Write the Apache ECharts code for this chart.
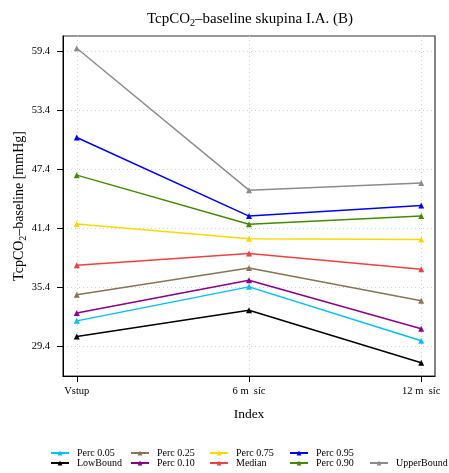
<!DOCTYPE html>
<html><head><meta charset="utf-8">
<script src="https://cdn.jsdelivr.net/npm/echarts@6/dist/echarts.min.js"></script>
<style>html,body{margin:0;padding:0;background:#fff}#c{width:449px;height:473px}</style>
</head><body><div id="c"></div>
<script>
const categories = ['Vstup', '6 m  síc', '12 m  síc'];
const yTicks = [29.4, 35.4, 41.4, 47.4, 53.4, 59.4];
const perc05 = [32.01, 35.47, 29.98];
const lowBound = [30.42, 33.10, 27.74];
const perc25 = [34.66, 37.38, 34.05];
const perc10 = [32.80, 36.15, 31.20];
const perc75 = [41.87, 40.36, 40.30];
const median = [37.67, 38.87, 37.27];
const perc95 = [50.67, 42.67, 43.75];
const perc90 = [46.84, 41.85, 42.67];
const upperBound = [59.75, 45.31, 46.05];

const seriesDefs = [
  ['Perc 0.05', perc05, '#00BFFF'],
  ['LowBound', lowBound, '#000000'],
  ['Perc 0.25', perc25, '#8B7355'],
  ['Perc 0.10', perc10, '#8B008B'],
  ['Perc 0.75', perc75, '#FFD700'],
  ['Median', median, '#F04040'],
  ['Perc 0.95', perc95, '#0000FF'],
  ['Perc 0.90', perc90, '#458B00'],
  ['UpperBound', upperBound, '#8C8C8C']
];
const FONT = 'Liberation Serif';
const chart = echarts.init(document.getElementById('c'));
const legendCols = [[0,1],[2,3],[4,5],[6,7],[8]];
const legendLeft = [50, 130, 209, 289, 369];
const legends = legendCols.map((col, i) => ({
  orient: 'vertical', left: legendLeft[i], top: i === 4 ? 458 : 448,
  itemWidth: 18, itemHeight: 6, itemGap: 0, padding: 0,
  data: col.map(k => seriesDefs[k][0]),
  textStyle: {fontFamily: FONT, fontSize: 10, color: '#000', lineHeight: 10, padding: [0,0,0,3]}
}));
chart.setOption({
  animation: false,
  title: {
    text: 'TcpCO{s|2}–baseline skupina I.A. (B)', left: 245, textAlign: 'center', top: 6,
    textStyle: {fontFamily: FONT, fontSize: 15, fontWeight: 'normal', color: '#000',
      rich: {s: {fontFamily: FONT, fontSize: 10, verticalAlign: 'bottom', padding: [7,0,0,0]}}}
  },
  legend: legends,
  grid: {left: 63, right: 14, top: 36, bottom: 97, show: true, borderColor: '#333', borderWidth: 1.2},
  xAxis: {
    type: 'value', min: -0.08, max: 2.08,
    name: 'Index', nameLocation: 'middle', nameGap: 31,
    nameTextStyle: {fontFamily: FONT, fontSize: 13.5, color: '#000'},
    axisLine: {show: true, onZero: false, lineStyle: {color: '#000', width: 1}},
    axisTick: {show: true, length: 6, customValues: [0,1,2], lineStyle: {color: '#000'}},
    axisLabel: {customValues: [0,1,2], formatter: v => categories[Math.round(v)], fontFamily: FONT, fontSize: 10.5, color: '#000', margin: 10},
    splitLine: {show: true, lineStyle: {type: [1, 3], color: '#d0d0d0'}}
  },
  yAxis: {
    type: 'value', min: 26.4, max: 61.0,
    name: 'TcpCO{s|2}–baseline [mmHg]', nameLocation: 'middle', nameGap: 35, nameMoveOverlap: false,
    nameTextStyle: {fontFamily: FONT, fontSize: 14, color: '#000',
      rich: {s: {fontFamily: FONT, fontSize: 10, padding: [7,0,0,0]}}},
    axisLine: {show: true, onZero: false, lineStyle: {color: '#000', width: 1}},
    axisTick: {show: true, length: 6, customValues: yTicks, lineStyle: {color: '#000'}},
    axisLabel: {customValues: yTicks, formatter: v => v.toFixed(1), fontFamily: FONT, fontSize: 10.5, color: '#000', margin: 13},
    splitLine: {show: true, lineStyle: {type: [1, 3], color: '#d0d0d0'}}
  },
  series: seriesDefs.map(([name, vals, color]) => ({
    name, type: 'line', data: vals.map((v, i) => [i, v]),
    symbol: 'triangle', symbolSize: 6,
    itemStyle: {color}, lineStyle: {color, width: 1.5}
  }))
});
</script></body></html>
